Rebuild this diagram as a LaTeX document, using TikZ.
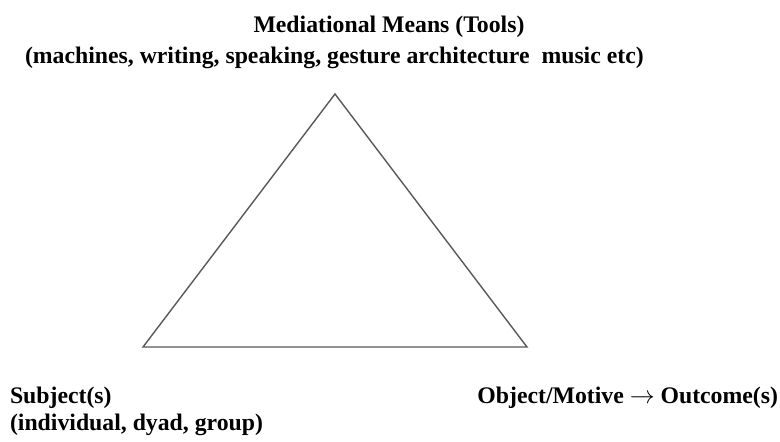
\documentclass[tikz,border=0pt]{standalone}
\usepackage{fontspec}
\setmainfont{Liberation Serif}
\begin{document}
\begin{tikzpicture}[x=1pt,y=-1pt,
  lbl/.style={inner sep=0pt,outer sep=0pt,font=\fontsize{23.75}{28}\selectfont\bfseries},
  edge/.style={draw=black!65,line width=1.4pt}]
\useasboundingbox (0,0) rectangle (780,442);
\fill[white] (0,0) rectangle (780,442);
\coordinate (apex) at (335,94);
\coordinate (bl) at (143,347);
\coordinate (br) at (527,347);
\draw[edge] (apex) -- (bl) -- (br) -- cycle;
\node[lbl,anchor=base] (t1) at (389,32) {Mediational Means (Tools)};
\node[lbl,anchor=base west] (t2) at (25,63) {(machines, writing, speaking, gesture architecture\ \ music etc)};
\node[lbl,anchor=base west] (s1) at (10,403) {Subject(s)};
\node[lbl,anchor=base west] (s2) at (10,430) {(individual, dyad, group)};
\node[lbl,anchor=base east] (o1) at (778,403) {Object/Motive $\rightarrow$ Outcome(s)};
\end{tikzpicture}
\end{document}
